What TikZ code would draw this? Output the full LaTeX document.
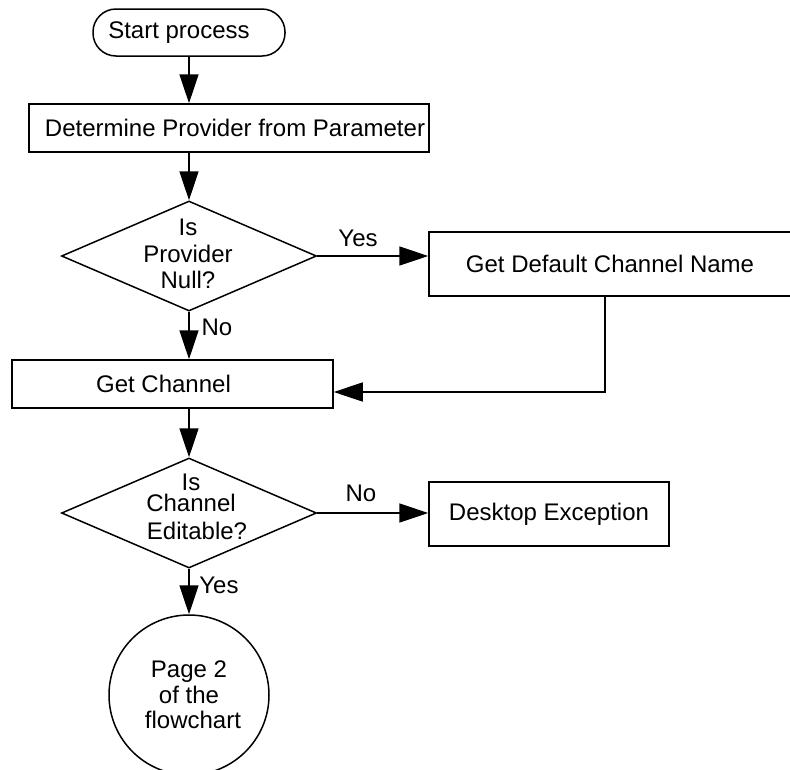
\documentclass[tikz,border=0pt]{standalone}
\usepackage{fontspec}
\setmainfont{Liberation Sans}
\usetikzlibrary{shapes.geometric,arrows.meta}
\begin{document}
\begin{tikzpicture}[x=1pt,y=-1pt,
  every node/.style={font=\fontsize{24}{26.5}\selectfont, inner sep=0pt},
  box/.style={draw, line width=1.5pt, rectangle},
  term/.style={draw, line width=1.5pt, rounded corners=23pt, rectangle},
  dec/.style={draw, line width=1.5pt, diamond, minimum width=255pt, minimum height=110pt},
  conn/.style={draw, line width=1.5pt, circle, minimum size=160pt, align=center},
  flow/.style={line width=1.5pt, -{Triangle[length=29pt,width=19pt]}},
  lbl/.style={inner sep=0pt}]
\useasboundingbox (0,0) rectangle (790,769);
\node[term, minimum width=192pt, minimum height=47pt] (start) at (189,32.5) {Start process\hspace*{20pt}};
\node[box, minimum width=400pt, minimum height=48pt] (det) at (229,128) {\hspace*{12pt}Determine Provider from Parameter};
\node[dec] (d1) at (189,256) {};
\node[align=center] (t1) at (188,254) {Is\\Provider\\Null?};
\node[box, minimum width=362pt, minimum height=64pt] (gdcn) at (610,264) {Get Default Channel Name};
\node[box, minimum width=321pt, minimum height=48pt] (gc) at (172.5,384) {Get Channel\hspace*{18pt}};
\node[dec] (d2) at (189,513) {};
\node[align=center] (t2) at (191,507) {Is\\[-6pt]Channel\\[2pt]\hspace*{12pt}Editable?};
\node[box, minimum width=240pt, minimum height=64pt] (de) at (549,514) {Desktop Exception};
\node[conn] (pg) at (189,695) {Page 2\\[-1pt]of the\\[-1pt]\hspace*{8pt}flowchart};
\coordinate (j) at (605,392);
\draw[flow] (start.south) -- (start.south |- det.north);
\draw[flow] (d1 |- det.south) -- (d1.north);
\draw[flow] (d1.east) -- (d1.east -| gdcn.west);
\draw[flow] (d1.south) -- (d1.south |- gc.north);
\draw[flow] (gdcn.south -| j) -- (j) -- (j -| gc.east);
\draw[flow] (d2 |- gc.south) -- (d2.north);
\draw[flow] (d2.east) -- (d2.east -| de.west);
\draw[flow] (d2.south) -- (pg.north);
\node[lbl] (l1) at (358,238) {Yes};
\node[lbl] (l2) at (217,327) {No};
\node[lbl] (l3) at (361,493) {No};
\node[lbl] (l4) at (219,585) {Yes};
\end{tikzpicture}
\end{document}
